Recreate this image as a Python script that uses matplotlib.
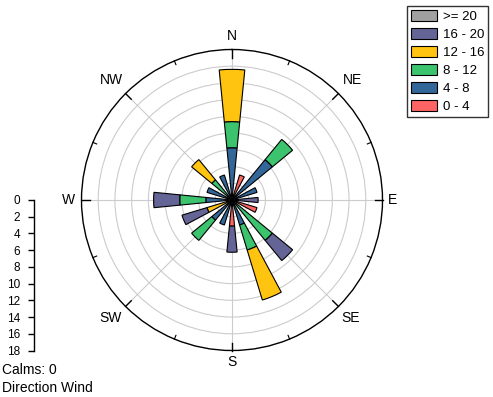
import numpy as np
import matplotlib
matplotlib.use('Agg')
import matplotlib.pyplot as plt
from matplotlib.patches import Patch

plt.rcParams['font.family'] = ['Liberation Sans', 'DejaVu Sans']

# 16 compass sectors, clockwise from north
directions = ['N', 'NNE', 'NE', 'ENE', 'E', 'ESE', 'SE', 'SSE',
              'S', 'SSW', 'SW', 'WSW', 'W', 'WNW', 'NW', 'NNW']
direction_deg = [0, 22.5, 45, 67.5, 90, 112.5, 135, 157.5,
                 180, 202.5, 225, 247.5, 270, 292.5, 315, 337.5]

# frequency (%) per speed bin, one value per sector
bin_labels = ['0 - 4', '4 - 8', '8 - 12', '12 - 16', '16 - 20', '>= 20']
freq_0_4 = [0, 3.125, 0, 0, 0, 3.125, 0, 0, 3.125, 0, 0, 0, 0, 0, 0, 0]
freq_4_8 = [6.25, 0, 6.25, 3.125, 0, 0, 0, 3.125, 0, 3.125, 3.125, 0, 3.125, 3.125, 0, 3.125]
freq_8_12 = [3.125, 0, 3.125, 0, 0, 0, 6.25, 3.125, 0, 0, 3.125, 0, 3.125, 0, 3.125, 0]
freq_12_16 = [6.25, 0, 0, 0, 0, 0, 0, 6.25, 0, 0, 0, 3.125, 0, 0, 3.125, 0]
freq_16_20 = [0, 0, 0, 0, 3.125, 0, 3.125, 0, 3.125, 0, 0, 3.125, 3.125, 0, 0, 0]
freq_20_up = [0] * 16

radial_ticks = [0, 2, 4, 6, 8, 10, 12, 14, 16, 18]
compass_labels = ['N', 'NE', 'E', 'SE', 'S', 'SW', 'W', 'NW']
compass_deg = [0, 45, 90, 135, 180, 225, 270, 315]

colors = ['#FF6464', '#336699', '#3CC36E', '#FFC40F', '#646496', '#A0A0A0']
series = [freq_0_4, freq_4_8, freq_8_12, freq_12_16, freq_16_20, freq_20_up]

W, H = 493, 397
fig = plt.figure(figsize=(W / 100, H / 100), dpi=100)

# polar area: centre (232, 200) px, radius ~150 px
cx, cy, r = 232, 200, 150.5
rmax = 18
ax = fig.add_axes([(cx - r) / W, (H - cy - r) / H, 2 * r / W, 2 * r / H],
                  projection='polar')
ax.set_theta_zero_location('N')
ax.set_theta_direction(-1)
ax.set_ylim(0, rmax)
ax.set_axisbelow(True)

theta = np.radians(direction_deg)
width = np.radians(11.25)
bottom = np.zeros(len(theta))
for vals, col in zip(series, colors):
    vals = np.array(vals, dtype=float)
    m = vals > 0
    if m.any():
        ax.bar(theta[m], vals[m], width=width, bottom=bottom[m],
               color=col, edgecolor='black', linewidth=0.8, zorder=3)
    bottom += vals

ax.set_rticks(radial_ticks[1:-1])
ax.set_yticklabels([])
ax.set_thetagrids(compass_deg, [''] * 8)
ax.grid(True, color='#cccccc', linewidth=0.8)
ax.tick_params(axis='x', which='major', length=0)
ax.spines['polar'].set_color('black')
ax.spines['polar'].set_linewidth(1)

# compass labels just outside the ring (pixel offsets)
label_offsets = [(0, 13.5), (13.6, 13.6), (10, 0), (12.6, -11.6),
                 (0, -11.5), (-14.6, -11.6), (-13.5, 0), (-14.6, 13.6)]
for lab, a, off in zip(compass_labels, compass_deg, label_offsets):
    ax.annotate(lab, (np.radians(a), rmax), xytext=off,
                textcoords='offset pixels', ha='center', va='center',
                fontsize=10, annotation_clip=False)

# inward tick marks on the outer ring
px = rmax / r
for a in compass_deg:
    ax.plot([np.radians(a)] * 2, [rmax - 8 * px, rmax], color='black',
            lw=1, zorder=4, clip_on=False)
for a in np.arange(22.5, 360, 45):
    ax.plot([np.radians(a)] * 2, [rmax - 4 * px, rmax], color='black',
            lw=0.8, zorder=4, clip_on=False)

# separate radial scale at left
sx = 34.3
ax2 = fig.add_axes([sx / W, (H - cy - r) / H, 0.01, r / H])
ax2.set_ylim(18, 0)
ax2.set_yticks(radial_ticks)
ax2.set_xticks([])
for s in ['top', 'right', 'bottom']:
    ax2.spines[s].set_visible(False)
ax2.spines['left'].set_linewidth(1)
ax2.tick_params(axis='y', direction='out', length=4, width=1, labelsize=8.5, pad=6)
ax2.patch.set_visible(False)

handles = [Patch(facecolor=c, edgecolor='black', linewidth=0.8) for c in colors]
leg = fig.legend(handles[::-1], bin_labels[::-1], loc='upper right',
                 bbox_to_anchor=(488 / W, 1 - 6 / H), borderaxespad=0,
                 fontsize=9.5, frameon=True, fancybox=False, handlelength=2.0,
                 handleheight=0.95, labelspacing=0.36, handletextpad=0.4,
                 borderpad=0.3)
leg.get_frame().set_edgecolor('black')
leg.get_frame().set_linewidth(1)

fig.text(2 / W, 1 - 370 / H, 'Calms: 0', fontsize=10, ha='left', va='center')
fig.text(2 / W, 1 - 388 / H, 'Direction Wind', fontsize=10, ha='left', va='center')

fig.savefig('out.png', dpi=100)
